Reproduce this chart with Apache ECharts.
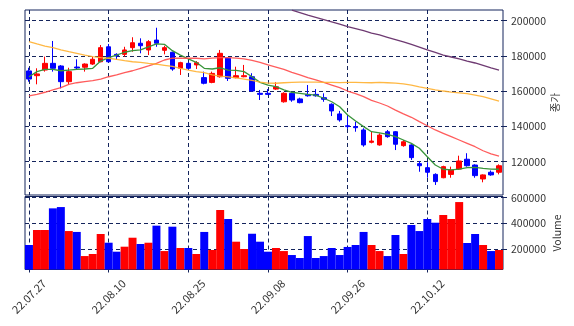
<!DOCTYPE html>
<html>
<head>
<meta charset="utf-8">
<script src="https://cdn.jsdelivr.net/npm/echarts@6/dist/echarts.min.js"></script>
<style>
html,body{margin:0;padding:0;background:#fff}
#main{width:574px;height:326px}
</style>
</head>
<body>
<div id="main"></div>
<script>
/* 데이터 */
var dates=['22.07.27','22.07.28','22.07.29','22.08.01','22.08.02','22.08.03','22.08.04','22.08.05','22.08.08','22.08.09',
'22.08.10','22.08.11','22.08.12','22.08.16','22.08.17','22.08.18','22.08.19','22.08.22','22.08.23','22.08.24',
'22.08.25','22.08.26','22.08.29','22.08.30','22.08.31','22.09.01','22.09.02','22.09.05','22.09.06','22.09.07',
'22.09.08','22.09.13','22.09.14','22.09.15','22.09.16','22.09.19','22.09.20','22.09.21','22.09.22','22.09.23',
'22.09.26','22.09.27','22.09.28','22.09.29','22.09.30','22.10.04','22.10.05','22.10.06','22.10.07','22.10.11',
'22.10.12','22.10.13','22.10.14','22.10.17','22.10.18','22.10.19','22.10.20','22.10.21','22.10.24','22.10.25'];
var opens=[171500,168800,172000,175800,174300,165400,173700,173600,175400,176700,
185200,180900,180900,184700,187200,183400,189000,183200,182100,173000,
175800,174900,167700,165000,168200,178700,167700,168200,168200,158800,
158800,161200,154000,158800,155600,158200,158200,156300,152600,147100,
140400,139900,138000,131000,129500,137000,137000,129100,129500,118900,
116600,112800,110900,112800,115800,121400,118100,110200,114000,114000];
var closes=[166900,169800,175800,173000,165400,171100,173200,175400,178100,184700,
176700,180000,183400,187500,185800,188100,187200,184700,172600,176200,
173000,176200,164500,170100,181500,167300,168800,168800,160100,158200,
158200,162500,158800,155000,153500,157400,157400,155400,148800,143700,
139900,139300,129500,131700,135100,134200,129900,131300,122300,117700,
114000,108700,117200,115300,120400,117700,112100,112500,112500,117700];
var highs=[173300,173000,179600,188500,174800,173300,178100,175800,179600,186200,
186800,181500,185200,190600,190000,189000,196000,185800,182400,176700,
176300,177100,171100,171100,183400,179000,173900,174900,170200,160700,
161200,165100,159400,159400,156300,163500,161200,158800,153100,148800,
146100,142700,139000,137000,136100,138000,137400,132300,129900,120400,
119700,113400,117700,117200,123400,124800,118500,112800,115000,118500];
var lows=[165400,163900,171100,171100,161600,163900,172000,171100,174900,176400,
176400,177700,179600,182400,181500,180500,185200,180900,171600,169200,
172000,172600,163900,164500,167700,165800,167300,167900,159700,155000,
157800,160700,153500,154000,153100,156900,156900,154000,145900,142700,
138600,137000,128500,130400,129100,133600,126600,128500,121000,114300,
110900,106800,110600,110900,115300,117200,110900,108300,112000,112800];
var volumes=[231000,348000,348000,517000,527000,340000,333000,145000,161000,317000,
249000,179000,218000,288000,239000,249000,382000,184000,374000,208000,
208000,161000,333000,192000,504000,434000,257000,200000,319000,257000,
179000,208000,184000,153000,130000,301000,130000,145000,208000,153000,
216000,231000,333000,231000,184000,145000,309000,161000,387000,340000,
434000,405000,465000,434000,566000,247000,317000,231000,184000,192000];
var ma5=[168200,171100,172400,172400,171600,172000,172400,172600,173000,177100,
179000,180500,182100,183000,183400,185200,186800,186600,183000,180500,
178300,176400,173000,172600,173300,172000,171800,171100,168200,165000,
163500,162600,160700,159400,158800,158200,157800,156000,154000,151200,
146500,143100,139900,137000,136300,135500,134200,132300,130400,127600,
122800,118100,115700,115300,115800,116600,116800,116200,115800,115700];
var ma20=[157400,158200,159400,160700,162000,163900,164800,165400,166000,166900,
168200,169200,170500,171600,173000,174300,175800,177700,178700,178700,
178700,178700,178300,178800,179000,179000,178800,178300,177500,176400,
174900,173700,172400,170700,169200,167700,166400,165000,163500,162000,
160100,158600,156900,154800,153300,151600,149300,147100,145200,142700,
140400,138000,136100,134200,132300,130400,128500,126200,124400,123200];
var ma60=[188100,186800,185600,184700,183400,182400,181500,180500,179600,179000,
178700,178100,177300,176700,176400,175800,175300,174700,174100,173000,
172000,171100,170500,169200,168600,168100,167500,166900,166100,165200,
164600,164500,164800,165000,165100,165100,165100,165000,165000,164900,
165000,165000,164900,164800,165000,164800,164600,164100,163500,162500,
161600,160800,160100,159500,159100,158600,157800,156900,155700,154400];
var ma120=[null,null,null,null,null,null,null,null,null,null,
null,null,null,null,null,null,null,null,null,null,
null,null,null,null,null,null,null,null,null,null,
null,null,null,206000,204600,203200,201900,200600,199300,198000,
196700,195500,194300,193000,191900,190600,189300,188000,186500,185000,
183400,182000,180500,179400,178300,177100,176000,174700,173300,172000];
var priceTicks=[120000,140000,160000,180000,200000];
var volTicks=[200000,400000,600000];

var navy='#14245c',txt='#333',fnt='Noto Sans CJK KR';
var upC='#ff0000',dnC='#0000ff';

var kdata=[],vdata=[];
for(var i=0;i<dates.length;i++){
	kdata.push([opens[i],closes[i],lows[i],highs[i]]);
	vdata.push({value:volumes[i],itemStyle:{color:closes[i]>=opens[i]?upC:dnC}});
}
var dash={color:navy,type:[4,3],width:1};
var plain=function(v){return String(v);};

var myChart=echarts.init(document.getElementById('main'),null,{renderer:'canvas'});
var option={
	animation:false,
	backgroundColor:'#fff',
	grid:[
		{left:25,right:71,top:10,height:185,show:true,borderColor:navy,borderWidth:1,backgroundColor:'transparent',outerBoundsMode:'none',containLabel:false},
		{left:25,right:71,top:196.5,height:73,show:true,borderColor:navy,borderWidth:1,backgroundColor:'transparent',outerBoundsMode:'none',containLabel:false}
	],
	xAxis:[
		{type:'category',gridIndex:0,data:dates,boundaryGap:true,
			axisLine:{show:false},axisTick:{show:false},axisLabel:{show:false},
			splitLine:{show:true,interval:9,alignWithLabel:true,lineStyle:dash}},
		{type:'category',gridIndex:1,data:dates,boundaryGap:true,
			axisLine:{show:false},
			axisTick:{show:true,interval:9,alignWithLabel:true,length:3,lineStyle:{color:navy}},
			axisLabel:{interval:9,rotate:45,align:'center',verticalAlign:'middle',fontSize:11,color:txt,fontFamily:fnt,margin:27},
			splitLine:{show:true,interval:9,alignWithLabel:true,lineStyle:dash}}
	],
	yAxis:[
		{type:'value',gridIndex:0,position:'right',min:101100,max:206070,scale:true,
			name:'종가',nameLocation:'middle',nameRotate:90,nameGap:47,nameMoveOverlap:false,
			nameTextStyle:{fontSize:10.5,color:txt,fontFamily:fnt},
			axisLine:{show:false},
			axisTick:{show:true,customValues:priceTicks,length:4,lineStyle:{color:navy}},
			axisLabel:{customValues:priceTicks,formatter:plain,fontSize:10.5,color:txt,fontFamily:fnt,margin:8},
			splitLine:{show:true,lineStyle:dash}},
		{type:'value',gridIndex:1,position:'right',min:40160,max:609360,scale:true,
			name:'Volume',nameLocation:'middle',nameRotate:90,nameGap:49,nameMoveOverlap:false,
			nameTextStyle:{fontSize:10.5,color:txt,fontFamily:fnt},
			axisLine:{show:false},
			axisTick:{show:true,customValues:volTicks,length:4,lineStyle:{color:navy}},
			axisLabel:{customValues:volTicks,formatter:plain,fontSize:10.5,color:txt,fontFamily:fnt,margin:8},
			splitLine:{show:true,lineStyle:dash}}
	],
	series:[
		{type:'candlestick',xAxisIndex:0,yAxisIndex:0,data:kdata,barWidth:5,
			itemStyle:{color:upC,color0:dnC,borderColor:upC,borderColor0:dnC,borderWidth:1}},
		{type:'line',xAxisIndex:0,yAxisIndex:0,data:ma5,symbol:'none',
			lineStyle:{color:'#38943a',width:1.3}},
		{type:'line',xAxisIndex:0,yAxisIndex:0,data:ma20,symbol:'none',
			lineStyle:{color:'#ff4a4a',width:1.3,opacity:0.9}},
		{type:'line',xAxisIndex:0,yAxisIndex:0,data:ma60,symbol:'none',
			lineStyle:{color:'#ffb030',width:1.3,opacity:0.9}},
		{type:'line',xAxisIndex:0,yAxisIndex:0,data:ma120,symbol:'none',
			lineStyle:{color:'#6e3a72',width:1.3}},
		{type:'bar',xAxisIndex:1,yAxisIndex:1,data:vdata,barWidth:'100%',barCategoryGap:0}
	]
};
myChart.setOption(option);
</script>
</body>
</html>
